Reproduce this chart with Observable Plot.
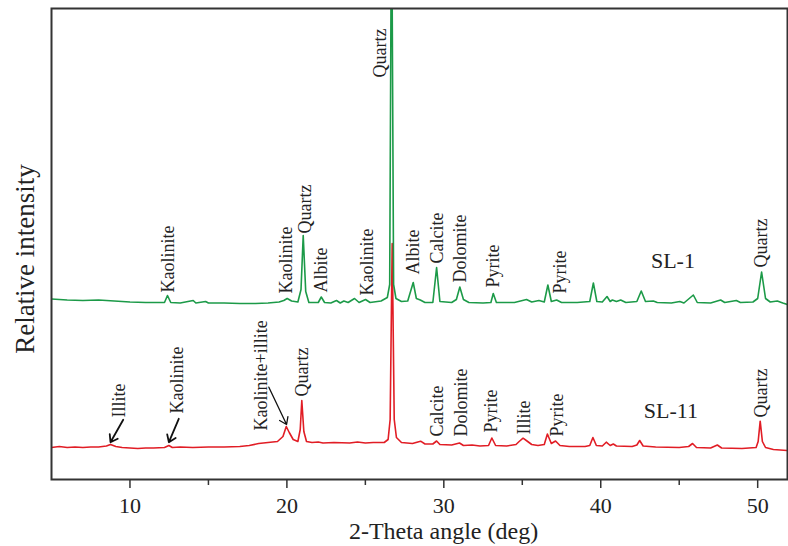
<!DOCTYPE html>
<html>
<head>
<meta charset="utf-8">
<script src="https://cdn.jsdelivr.net/npm/d3@7"></script>
<script src="https://cdn.jsdelivr.net/npm/@observablehq/plot@0.6"></script>
<style>
  html, body { margin: 0; padding: 0; background: #fff; }
</style>
</head>
<body>
<div id="chart"></div>
<script>
// 2-theta positions (deg) and relative intensity (a.u.) for sample SL-1 (green)
const greenTheta = [5.0, 6.0, 7.0, 8.0, 9.0, 10.0, 11.0, 12.0, 12.2, 12.39, 12.6, 13.2, 14.03, 14.2, 14.82, 15.0, 16.0, 17.0, 18.0, 18.8, 19.5, 19.8, 20.02, 20.3, 20.7, 20.9, 21.04, 21.2, 21.4, 22.0, 22.19, 22.4, 22.8, 23.16, 23.4, 23.63, 23.9, 24.31, 24.6, 25.01, 25.3, 26.0, 26.4, 26.55, 26.67, 26.8, 26.95, 27.3, 27.7, 28.05, 28.25, 28.5, 28.8, 29.3, 29.54, 29.75, 30.5, 30.8, 31.02, 31.25, 31.6, 32.5, 33.0, 33.15, 33.35, 34.5, 35.27, 35.6, 36.06, 36.4, 36.63, 36.85, 37.19, 37.5, 38.5, 39.3, 39.53, 39.75, 40.1, 40.4, 40.6, 40.74, 41.0, 41.27, 41.6, 42.3, 42.58, 42.85, 43.35, 43.6, 44.5, 45.04, 45.3, 45.9, 46.15, 47.0, 47.64, 47.9, 48.64, 48.9, 49.7, 50.0, 50.25, 50.5, 50.8, 51.25, 51.6, 51.9];
const greenIntensity = [180.5, 179.5, 179, 179.5, 178.5, 177.5, 177, 177, 177, 184, 177, 176.5, 179, 176.5, 178, 176.5, 176.5, 176, 176, 176.5, 177.5, 179, 181, 178.5, 177.5, 190, 244, 188, 177, 177, 182.5, 177, 176.5, 179, 176.5, 178.5, 177, 181, 177, 180, 177, 178.5, 182, 195, 600, 195, 181, 178, 178.5, 197, 181, 179.5, 177, 177, 212, 178, 177, 180, 192.5, 180, 177, 176.5, 177, 186, 177, 177, 180, 177.5, 179, 177.5, 194.5, 178, 179.5, 177, 177, 178, 196.5, 178, 177.5, 183, 178, 179.5, 178, 179.5, 177, 178, 188.5, 178, 178.5, 177, 176.5, 178, 176.5, 184.5, 177, 176.5, 179.5, 177, 179, 177, 177.5, 181, 207.5, 181, 177.5, 178.5, 176.5, 175];

// sample SL-11 (red)
const redTheta = [5.0, 5.5, 6.0, 6.5, 7.0, 7.5, 8.0, 8.5, 8.76, 9.1, 9.5, 10.0, 10.5, 11.0, 11.5, 12.2, 12.48, 12.7, 13.2, 14.0, 15.0, 16.0, 17.0, 17.6, 18.2, 18.8, 19.4, 19.75, 19.96, 20.15, 20.4, 20.7, 20.85, 20.95, 21.08, 21.25, 21.6, 22.0, 22.3, 23.0, 24.0, 24.5, 25.0, 25.5, 26.2, 26.45, 26.58, 26.71, 26.84, 26.98, 27.3, 28.0, 28.52, 28.8, 29.3, 29.54, 29.75, 30.5, 31.0, 31.25, 31.8, 32.3, 32.85, 33.06, 33.3, 34.0, 34.6, 34.8, 35.05, 35.3, 35.6, 36.0, 36.4, 36.6, 36.85, 37.12, 37.4, 38.0, 39.0, 39.3, 39.5, 39.72, 40.1, 40.35, 40.6, 40.8, 41.0, 42.0, 42.3, 42.48, 42.7, 43.5, 45.0, 45.6, 45.85, 46.1, 47.0, 47.43, 47.7, 49.0, 49.9, 50.03, 50.16, 50.3, 50.5, 51.0, 51.9];
const redIntensity = [32, 33, 32, 32.5, 32, 32.5, 32.5, 33.5, 35, 33, 32, 31.5, 31, 31.5, 31.5, 32, 34, 32, 32.5, 32, 32.5, 32.5, 33, 34, 36, 37, 38, 43, 53, 47, 40, 38, 50, 79, 48, 38, 37, 37.5, 36.5, 37, 36.5, 37.5, 36.5, 37, 37, 40, 60, 236, 60, 42, 37, 36, 38.3, 35.5, 35.5, 38.5, 35, 34.5, 36.5, 34, 34.5, 33.5, 34, 41.5, 34, 33.5, 35, 38, 41.3, 38.5, 35, 34, 35, 45.5, 36, 38.5, 34, 33, 33, 34, 42, 34, 33.5, 37.3, 34, 35.5, 33.5, 33, 34.5, 39, 33.5, 32.5, 32, 33, 36, 32, 31.5, 34.5, 31.5, 31, 32, 38, 58.3, 38, 32, 30, 29];

// x axis ticks
const majorTicks = [10, 20, 30, 40, 50];
const minorTicks = [15, 25, 35, 45];

// peak labels
const greenLabelNames = ["Kaolinite", "Kaolinite", "Quartz", "Albite", "Kaolinite", "Quartz", "Albite", "Calcite", "Dolomite", "Pyrite", "Pyrite", "Quartz"];
const greenLabelTheta = [12.43, 19.93, 21.15, 22.2, 25.1, 25.97, 28.05, 29.58, 31.05, 33.15, 37.44, 50.23];
const greenLabelLevel = [187, 186, 246, 187, 184, 402, 205, 216, 197, 192, 186, 212];

const redLabelNames = ["Illite", "Kaolinite", "Kaolinite+illite", "Quartz", "Calcite", "Dolomite", "Pyrite", "Illite", "Pyrite", "Quartz"];
const redLabelTheta = [9.29, 13.0, 18.35, 21.0, 29.58, 31.1, 33.03, 35.1, 37.23, 50.2];
const redLabelLevel = [62, 66, 49, 83, 43, 43, 47, 45, 43, 62];

// arrows pointing to weak peaks
const arrowTheta1 = [9.57, 13.11, 18.85];
const arrowLevel1 = [59.7, 60.7, 92.3];
const arrowTheta2 = [8.76, 12.48, 19.98];
const arrowLevel2 = [37.3, 37.3, 55];

// sample names
const sampleNames = ["SL-1", "SL-11"];
const sampleTheta = [44.6, 44.47];
const sampleLevel = [218.5, 68.7];

const GREEN = "#1c9a48";
const RED = "#e11d25";

const green = greenTheta.map((x, i) => ({x, y: greenIntensity[i]}));
const red = redTheta.map((x, i) => ({x, y: redIntensity[i]}));
const gLabels = greenLabelNames.map((t, i) => ({t, x: greenLabelTheta[i], y: greenLabelLevel[i]}));
const rLabels = redLabelNames.map((t, i) => ({t, x: redLabelTheta[i], y: redLabelLevel[i]}));
const arrows = arrowTheta1.map((x1, i) => ({x1, y1: arrowLevel1[i], x2: arrowTheta2[i], y2: arrowLevel2[i], w: i === 2 ? 1.3 : 1.8}));
const samples = sampleNames.map((t, i) => ({t, x: sampleTheta[i], y: sampleLevel[i]}));

const chart = Plot.plot({
  width: 788,
  height: 546,
  marginLeft: 51,
  marginRight: 1,
  marginTop: 8,
  marginBottom: 67,
  style: {fontFamily: "'Liberation Serif', 'Times New Roman', serif", background: "#fff", color: "#222"},
  x: {domain: [5, 51.9], label: null},
  y: {domain: [0, 471], axis: null},
  marks: [
    Plot.line(red, {x: "x", y: "y", stroke: RED, strokeWidth: 1.6, clip: true}),
    Plot.line(green, {x: "x", y: "y", stroke: GREEN, strokeWidth: 1.6, clip: true}),
    Plot.text(gLabels, {x: "x", y: "y", text: "t", rotate: -90, textAnchor: "start", fontSize: 18, fill: "#222"}),
    Plot.text(rLabels, {x: "x", y: "y", text: "t", rotate: -90, textAnchor: "start", fontSize: 18, fill: "#222"}),
    Plot.arrow(arrows, {x1: "x1", y1: "y1", x2: "x2", y2: "y2", stroke: "#111", strokeWidth: "w", headLength: 12, headAngle: 70}),
    Plot.text(samples, {x: "x", y: "y", text: "t", fontSize: 22, fill: "#222"}),
    Plot.frame({stroke: "#333", strokeWidth: 2}),
    Plot.axisX({ticks: majorTicks, tickSize: 9, tickPadding: 9, fontSize: 22, stroke: "#333", strokeWidth: 1.5, label: null, tickFormat: d => String(d)}),
    Plot.axisX({ticks: minorTicks, tickSize: 6, stroke: "#333", strokeWidth: 1.5, fill: "none", label: null}),
    Plot.text(["2-Theta angle (deg)"], {frameAnchor: "bottom", lineAnchor: "middle", textAnchor: "middle", dx: 24, dy: 52, fontSize: 24, fill: "#222"}),
    Plot.text(["Relative intensity"], {frameAnchor: "left", lineAnchor: "middle", textAnchor: "middle", rotate: -90, dx: -26, dy: 15, fontSize: 27, fill: "#222"})
  ]
});
document.getElementById("chart").appendChild(chart);
</script>
</body>
</html>
